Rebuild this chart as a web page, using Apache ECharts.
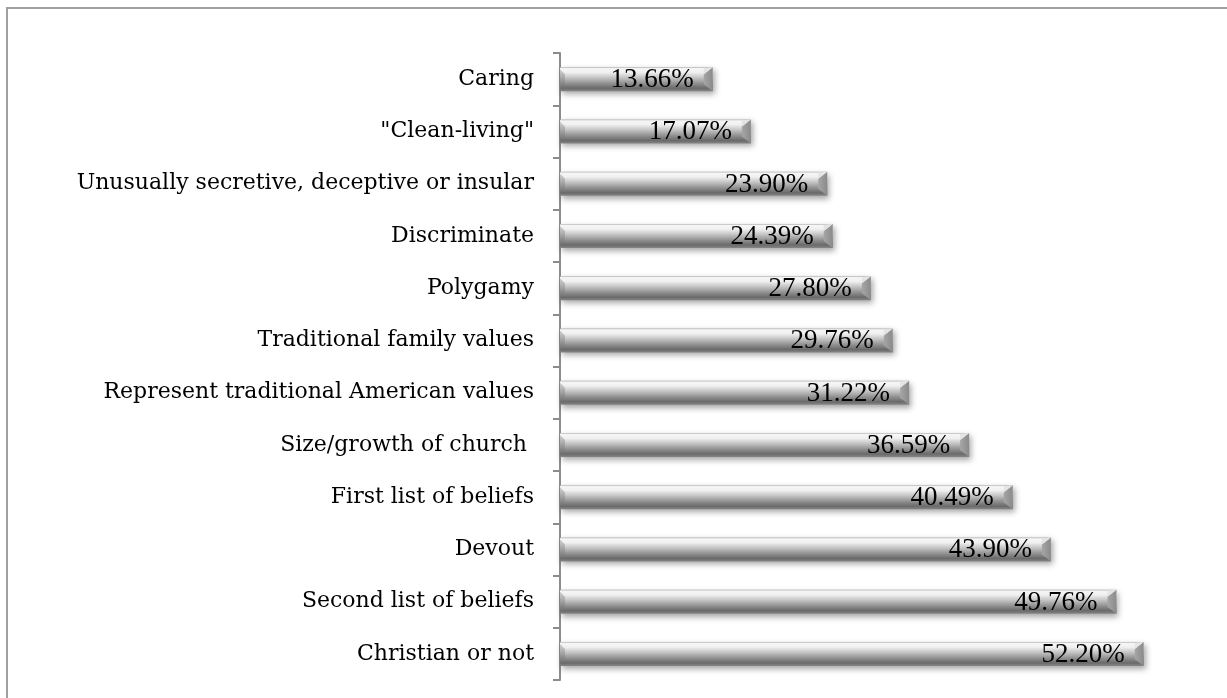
<!DOCTYPE html>
<html>
<head>
<meta charset="utf-8">
<script src="https://cdn.jsdelivr.net/npm/echarts@6/dist/echarts.min.js"></script>
<style>
html,body{margin:0;padding:0;background:#fff;}
#frame{position:absolute;left:6px;top:7px;width:1240px;height:720px;border-top:2px solid #a0a0a0;border-left:2px solid #a0a0a0;box-sizing:border-box;}
#chart{position:absolute;left:0;top:0;width:1227px;height:698px;}
</style>
</head>
<body>
<div id="frame"></div>
<div id="chart"></div>
<script>
const categories = [
  'Caring',
  '"Clean-living"',
  'Unusually secretive, deceptive or insular',
  'Discriminate',
  'Polygamy',
  'Traditional family values',
  'Represent traditional American values',
  'Size/growth of church ',
  'First list of beliefs',
  'Devout',
  'Second list of beliefs',
  'Christian or not'
];
const values = [13.66, 17.07, 23.90, 24.39, 27.80, 29.76, 31.22, 36.59, 40.49, 43.90, 49.76, 52.20];

const BAR_H = 24;
function renderBar(params, api) {
  const v = api.value(0), idx = api.value(1);
  const s = api.coord([0, idx]);
  const e = api.coord([v, idx]);
  const x0 = s[0], x1 = e[0], yc = e[1];
  const y0 = yc - BAR_H / 2, y1 = yc + BAR_H / 2;
  const w = x1 - x0;
  const body = new echarts.graphic.LinearGradient(0, 0, 0, 1, [
    {offset: 0, color: '#a8a8a8'},
    {offset: 0.06, color: '#f6f6f6'},
    {offset: 0.22, color: '#f0f0f0'},
    {offset: 0.45, color: '#c2c2c2'},
    {offset: 0.7, color: '#8c8c8c'},
    {offset: 0.88, color: '#6a6a6a'},
    {offset: 1, color: '#858585'}
  ]);
  return {
    type: 'group',
    children: [
      {type: 'rect', shape: {x: x0, y: y0, width: w, height: BAR_H},
        style: {fill: body, shadowColor: 'rgba(0,0,0,0.35)', shadowBlur: 6, shadowOffsetX: 2, shadowOffsetY: 3}},
      {type: 'polygon', shape: {points: [[x1 - 9, y0 + 7], [x1, y0], [x1, y1], [x1 - 9, y1 - 7]]},
        style: {fill: new echarts.graphic.LinearGradient(0, 0, 1, 0, [
          {offset: 0, color: '#a6a6a6'}, {offset: 1, color: '#8a8a8a'}])}},
      {type: 'polygon', shape: {points: [[x1 - 9, y0 + 1], [x1, y0], [x1 - 9, y0 + 7]]},
        style: {fill: '#e4e4e4'}},
      {type: 'polygon', shape: {points: [[x0, y0 + 2], [x0 + 5, y0 + 7], [x0 + 5, y1 - 7], [x0, y1 - 2]]},
        style: {fill: new echarts.graphic.LinearGradient(0, 0, 0, 1, [
          {offset: 0, color: '#b0b0b0'}, {offset: 1, color: '#707070'}]), opacity: 0.6}},
      {type: 'text', x: x1 - 19, y: yc + 1,
        style: {text: v.toFixed(2) + '%', fontFamily: 'Liberation Serif', fontSize: 27, fill: '#000',
          align: 'right', verticalAlign: 'middle'}}
    ]
  };
}

const chart = echarts.init(document.getElementById('chart'));
chart.setOption({
  animation: false,
  grid: {left: 560, top: 53, width: 615, height: 627, containLabel: false},
  xAxis: {
    type: 'value', min: 0, max: 55, show: false
  },
  yAxis: {
    type: 'category', data: categories, inverse: true,
    axisLine: {show: true, lineStyle: {color: '#8c8c8c', width: 2}},
    axisTick: {show: true, length: 7, lineStyle: {color: '#8c8c8c', width: 2}},
    axisLabel: {fontFamily: 'DejaVu Serif', fontSize: 22, color: '#000', margin: 26}
  },
  series: [{
    type: 'custom',
    renderItem: renderBar,
    encode: {x: 0, y: 1},
    data: values.map((v, i) => [v, i]),
    z: 3
  }]
});
</script>
</body>
</html>
